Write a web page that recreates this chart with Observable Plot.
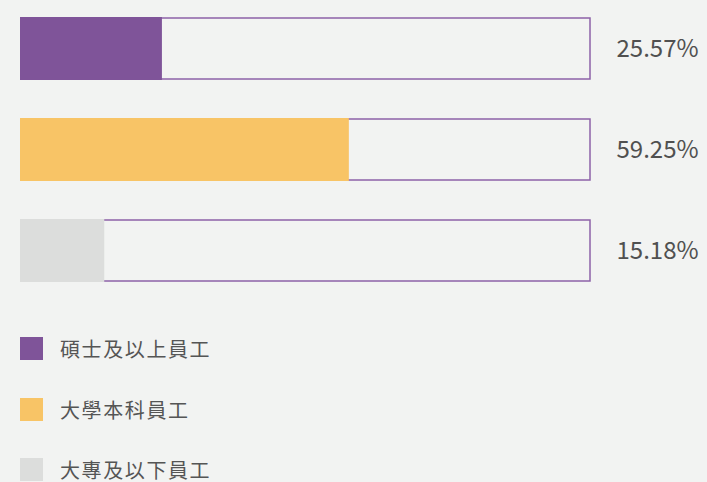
<!DOCTYPE html>
<html><head><meta charset="utf-8">
<script src="https://cdn.jsdelivr.net/npm/d3@7"></script>
<script src="https://cdn.jsdelivr.net/npm/@observablehq/plot@0.6"></script>
<style>
html,body{margin:0;padding:0;background:#f2f3f2;width:707px;height:482px;overflow:hidden;font-family:"Noto Sans CJK TC","Noto Sans",sans-serif;}
#legend{position:relative;}
.item{position:absolute;left:20px;height:23px;display:flex;align-items:center;}
.sw{width:23px;height:23px;}
.lab{margin-left:17px;font-size:20px;letter-spacing:1.6px;color:#555;}
</style></head>
<body>
<div id="chart"></div>
<div id="legend"></div>
<script>
const categories = ["碩士及以上員工", "大學本科員工", "大專及以下員工"];
const values = [25.57, 59.25, 15.18];
const labels = ["25.57%", "59.25%", "15.18%"];
const colors = ["#7f5499", "#f8c466", "#dcdddc"];

const data = categories.map((c, i) => ({cat: c, value: values[i], label: labels[i], full: 100}));

const plot = Plot.plot({
  width: 707, height: 300,
  marginTop: 0, marginBottom: 0, marginLeft: 0, marginRight: 0,
  style: {background: "#f2f3f2", fontFamily: "'Noto Sans CJK TC','Noto Sans',sans-serif"},
  x: {domain: [0, 100], range: [20, 575], axis: null},
  y: {type: "band", domain: categories, range: [16, 282.5], paddingInner: 0.374, paddingOuter: 0, axis: null},
  color: {domain: categories, range: colors},
  marks: [
    Plot.barX(data, {x1: 0, x2: "full", y: "cat", fill: "none", stroke: "#8d62a8", strokeWidth: 1.5, insetLeft: 2, insetRight: -15, insetTop: 1, insetBottom: 1}),
    Plot.barX(data, {x1: 0, x2: "value", y: "cat", fill: "cat"}),
    Plot.text(data, {y: "cat", text: "label", frameAnchor: "left", dx: 616, textAnchor: "start", fontSize: 24, fill: "#505050"})
  ]
});
document.getElementById("chart").appendChild(plot);

const legend = document.getElementById("legend");
categories.forEach((c, i) => {
  const it = document.createElement("div");
  it.className = "item";
  it.style.top = (37 + i * 60.5) + "px";
  const sw = document.createElement("div");
  sw.className = "sw";
  sw.style.background = colors[i];
  const lb = document.createElement("span");
  lb.className = "lab";
  lb.textContent = c;
  it.appendChild(sw); it.appendChild(lb);
  legend.appendChild(it);
});
</script>
</body></html>
